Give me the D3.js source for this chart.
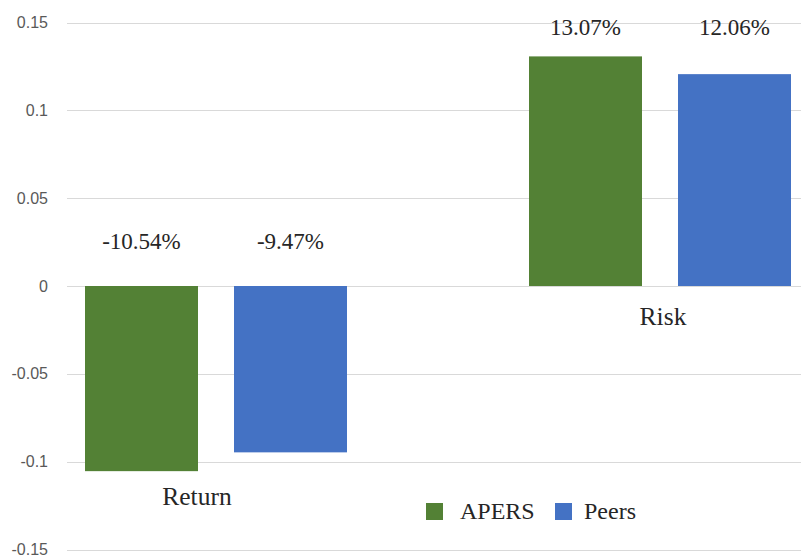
<!DOCTYPE html>
<html>
<head>
<meta charset="utf-8">
<script src="https://cdn.jsdelivr.net/npm/d3@7"></script>
<style>
  html, body { margin: 0; padding: 0; background: #fff; }
  svg { display: block; }
</style>
</head>
<body>
<svg id="chart" width="801" height="555"></svg>
<script>
const categories = ["Return", "Risk"];
const seriesNames = ["APERS", "Peers"];
const apersValues = [-0.1054, 0.1307];
const peersValues = [-0.0947, 0.1206];
const yTickValues = [-0.15, -0.1, -0.05, 0, 0.05, 0.1, 0.15];
const yTickLabels = ["-0.15", "-0.1", "-0.05", "0", "0.05", "0.1", "0.15"];
const seriesColors = ["#538135", "#4472C4"];

const seriesValues = [apersValues, peersValues];
const rows = categories.map((c, i) => ({
  category: c,
  values: seriesNames.map((s, j) => ({ series: s, value: seriesValues[j][i], color: seriesColors[j] }))
}));

const svg = d3.select("#chart");
const gridLeft = 67, gridRight = 801;

const y = d3.scaleLinear().domain([-0.15, 0.15]).range([549.5, 22.5]);
const x0 = d3.scaleBand().domain(categories).range([-6, 882]).paddingInner(0).paddingOuter(0);
const x1 = d3.scaleBand().domain(seriesNames).range([91, 353]).paddingInner(36 / 149).paddingOuter(0);

// gridlines
svg.append("g").selectAll("line").data(yTickValues).join("line")
  .attr("x1", gridLeft).attr("x2", gridRight)
  .attr("y1", d => Math.round(y(d)) + 0.5).attr("y2", d => Math.round(y(d)) + 0.5)
  .attr("stroke", "#d9d9d9").attr("stroke-width", 1);

// y axis labels
const yAxis = d3.axisLeft(y).tickValues(yTickValues)
  .tickFormat((d, i) => yTickLabels[i]).tickSize(0).tickPadding(0);
const yg = svg.append("g").attr("transform", "translate(48,0)").call(yAxis);
yg.select(".domain").remove();
yg.selectAll("text")
  .attr("font-family", "'Liberation Sans', Arial, sans-serif")
  .attr("font-size", 16)
  .attr("fill", "#595959");

// bars
const groups = svg.append("g").selectAll("g").data(rows).join("g")
  .attr("transform", d => `translate(${x0(d.category)},0)`);

groups.selectAll("rect").data(d => d.values).join("rect")
  .attr("x", d => x1(d.series))
  .attr("width", x1.bandwidth())
  .attr("y", d => y(Math.max(0, d.value)))
  .attr("height", d => Math.abs(y(d.value) - y(0)))
  .attr("fill", d => d.color);

// value labels
const fmt = d3.format(".2%");
groups.each(function(row) {
  const g = d3.select(this);
  const maxV = d3.max(row.values, v => v.value);
  g.selectAll("text.val").data(row.values).join("text")
    .attr("class", "val")
    .attr("x", d => x1(d.series) + x1.bandwidth() / 2)
    .attr("y", d => d.value >= 0 ? y(maxV) - 21 : y(0) - 37)
    .attr("text-anchor", "middle")
    .attr("font-family", "'Liberation Serif', 'Times New Roman', serif")
    .attr("font-size", 23)
    .attr("fill", "#262626")
    .text(d => fmt(d.value).replace("−", "-"));
  const minV = d3.min(row.values, v => v.value);
  g.append("text")
    .attr("x", x0.bandwidth() / 2 + (minV < 0 ? -19 : 3))
    .attr("y", minV < 0 ? y(minV) + 34 : y(0) + 39)
    .attr("text-anchor", "middle")
    .attr("font-family", "'Liberation Serif', 'Times New Roman', serif")
    .attr("font-size", 25.5)
    .attr("fill", "#262626")
    .text(row.category);
});

// legend
const legendItems = [
  { name: seriesNames[0], color: seriesColors[0], x: 426 },
  { name: seriesNames[1], color: seriesColors[1], x: 555 }
];
const lg = svg.append("g").selectAll("g").data(legendItems).join("g")
  .attr("transform", d => `translate(${d.x},503)`);
lg.append("rect").attr("width", 17).attr("height", 17).attr("fill", d => d.color);
lg.append("text")
  .attr("x", d => d.name === "APERS" ? 34 : 29)
  .attr("y", 16)
  .attr("font-family", "'Liberation Serif', 'Times New Roman', serif")
  .attr("font-size", 24)
  .attr("fill", "#262626")
  .text(d => d.name);
</script>
</body>
</html>
